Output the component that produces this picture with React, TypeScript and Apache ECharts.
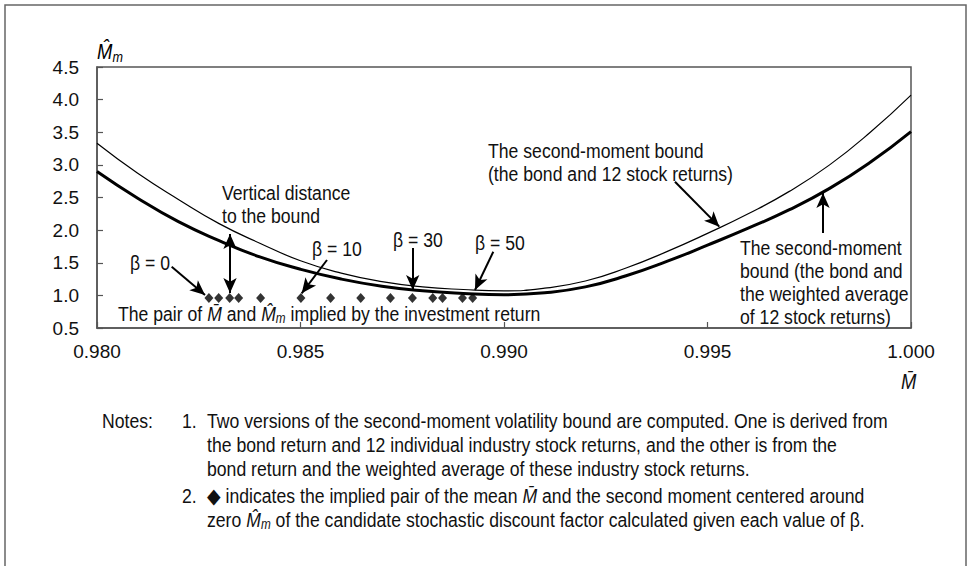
import React, { useEffect, useRef } from "react";
import * as echarts from "echarts";

// ---- data ----
const meanGrid = [0.980, 0.981, 0.982, 0.983, 0.984, 0.985, 0.986, 0.987, 0.988, 0.989, 0.990, 0.991, 0.992, 0.993, 0.994, 0.995, 0.996, 0.997, 0.998, 0.999, 1.000];
// bound from the bond and 12 stock returns (thin)
const boundTwelve = [3.33, 2.87, 2.47, 2.10, 1.80, 1.53, 1.34, 1.21, 1.13, 1.09, 1.07, 1.11, 1.22, 1.42, 1.67, 1.95, 2.25, 2.59, 3.00, 3.50, 4.07];
// bound from the bond and the weighted average (thick)
const boundWeighted = [2.90, 2.49, 2.13, 1.84, 1.59, 1.40, 1.25, 1.14, 1.07, 1.03, 1.01, 1.04, 1.13, 1.30, 1.52, 1.77, 2.03, 2.31, 2.64, 3.04, 3.51];
// implied pairs (diamonds)
const pairMean = [0.98275, 0.98299, 0.98326, 0.98348, 0.98402, 0.98501, 0.98574, 0.98648, 0.98721, 0.98775, 0.98825, 0.98849, 0.98898, 0.98923];
const pairMoment = [0.96, 0.96, 0.96, 0.96, 0.96, 0.96, 0.96, 0.96, 0.96, 0.96, 0.96, 0.96, 0.96, 0.96];
const xTicks = { min: 0.98, max: 1.0, step: 0.005 };
const yTicks = { min: 0.5, max: 4.5, step: 0.5 };

// annotation arrows in data coordinates: [x1, y1, x2, y2, double]
const arrows: [number, number, number, number, boolean][] = [
  [0.983268, 1.036, 0.983268, 1.94, true],
  [0.981835, 1.44, 0.982654, 1.006, false],
  [0.985651, 1.542, 0.985029, 1.032, false],
  [0.987757, 1.726, 0.987757, 1.082, false],
  [0.989737, 1.669, 0.989287, 1.082, false],
  [0.994201, 2.742, 0.99529, 2.053, false],
  [0.997838, 1.956, 0.997838, 2.569, false],
];

const FONT = '"Liberation Sans", Arial, sans-serif';
const FS = 21;
const SX = 0.84; // horizontal squeeze to emulate a narrow face

const MHAT = "M\u0302";
const MBAR = "M\u0304";

const richBase = {
  n: { fontFamily: FONT, fontSize: FS, color: "#111", lineHeight: 23 },
  i: { fontFamily: FONT, fontSize: FS, color: "#111", fontStyle: "italic", lineHeight: 23 },
  s: { fontFamily: FONT, fontSize: 14, color: "#111", fontStyle: "italic", lineHeight: 12, verticalAlign: "bottom" },
};

function txt(x: number, y: number, text: string, extra: any = {}) {
  return {
    type: "text",
    x,
    y,
    scaleX: SX,
    silent: true,
    style: {
      text,
      x: 0,
      y: 0,
      verticalAlign: "top",
      fontFamily: FONT,
      fontSize: FS,
      fill: "#111",
      lineHeight: 23,
      ...extra,
    },
  };
}

function rtxt(x: number, y: number, text: string) {
  return {
    type: "text",
    x,
    y,
    scaleX: SX,
    silent: true,
    style: { text, x: 0, y: 0, verticalAlign: "top", rich: richBase, fontFamily: FONT, fontSize: FS, fill: "#111" },
  };
}

export default function App() {
  const ref = useRef<HTMLDivElement>(null);
  useEffect(() => {
    if (!ref.current) return;
    const chart = echarts.init(ref.current, null, { renderer: "svg" });
    const thin = meanGrid.map((x, i) => [x, boundTwelve[i]]);
    const thick = meanGrid.map((x, i) => [x, boundWeighted[i]]);
    const pts = pairMean.map((x, i) => [x, pairMoment[i]]);
    const arrowData = arrows.map(([x1, y1, x2, y2, dbl]) => [
      { coord: [x1, y1], symbol: dbl ? "arrow" : "none" },
      { coord: [x2, y2], symbol: "arrow" },
    ]);
    chart.setOption({
      animation: false,
      backgroundColor: "#fff",
      grid: {
        left: 97,
        right: 63,
        top: 67,
        bottom: 238,
        show: true,
        borderColor: "#555",
        borderWidth: 1.5,
        backgroundColor: "transparent",
      },
      xAxis: {
        type: "value",
        min: xTicks.min,
        max: xTicks.max,
        interval: xTicks.step,
        axisLine: { show: true, lineStyle: { color: "#555", width: 1.5 } },
        axisTick: { show: true, inside: true, length: 6, lineStyle: { color: "#555", width: 1.2 } },
        splitLine: { show: false },
        axisLabel: {
          margin: 14,
          fontFamily: FONT,
          fontSize: 19,
          color: "#111",
          formatter: (v: number) => v.toFixed(3),
        },
      },
      yAxis: {
        type: "value",
        min: yTicks.min,
        max: yTicks.max,
        interval: yTicks.step,
        axisLine: { show: true, lineStyle: { color: "#555", width: 1.5 } },
        axisTick: { show: true, inside: true, length: 6, lineStyle: { color: "#555", width: 1.2 } },
        splitLine: { show: false },
        axisLabel: {
          margin: 18,
          fontFamily: FONT,
          fontSize: 19,
          color: "#111",
          formatter: (v: number) => v.toFixed(1),
        },
      },
      series: [
        {
          type: "line",
          data: thin,
          smooth: true,
          symbol: "none",
          lineStyle: { color: "#000", width: 1.2 },
          z: 3,
        },
        {
          type: "line",
          data: thick,
          smooth: true,
          symbol: "none",
          lineStyle: { color: "#000", width: 3 },
          z: 3,
        },
        {
          type: "scatter",
          data: pts,
          symbol: "diamond",
          symbolSize: [9, 10],
          itemStyle: { color: "#000" },
          z: 4,
        },
        {
          type: "line",
          data: [],
          markLine: {
            silent: true,
            animation: false,
            symbolSize: [10, 15],
            label: { show: false },
            lineStyle: { color: "#000", width: 2, type: "solid" },
            data: arrowData,
          },
          z: 5,
        },
      ],
      graphic: [
        {
          type: "rect",
          silent: true,
          shape: { x: 5, y: 5, width: 961, height: 600 },
          style: { fill: "none", stroke: "#666", lineWidth: 1.5 },
          z: -1,
        },
        // axis names
        {
          type: "text",
          x: 97,
          y: 38,
          scaleX: SX,
          silent: true,
          style: {
            text: "{i|" + MHAT + "}{s|m}",
            x: 0,
            y: 0,
            verticalAlign: "top",
            rich: {
              i: { fontFamily: FONT, fontSize: 22, fontStyle: "italic", color: "#111", lineHeight: 26 },
              s: { fontFamily: FONT, fontSize: 15, fontStyle: "italic", color: "#111", lineHeight: 14, verticalAlign: "bottom" },
            },
          },
        },
        txt(901, 370, MBAR, { fontStyle: "italic", fontSize: 22 }),
        // annotations
        txt(222, 181, "Vertical distance\nto the bound"),
        txt(130, 251, "\u03b2 = 0"),
        txt(312, 237, "\u03b2 = 10"),
        txt(393, 228, "\u03b2 = 30"),
        txt(475, 231, "\u03b2 = 50"),
        txt(488, 139, "The second-moment bound\n(the bond and 12 stock returns)"),
        txt(740, 236, "The second-moment\nbound (the bond and\nthe weighted average\nof 12 stock returns)"),
        rtxt(118, 302, "{n|The pair of }{i|" + MBAR + "}{n| and }{i|" + MHAT + "}{s|m}{n| implied by the investment return}"),
        // notes
        txt(102, 409, "Notes:"),
        txt(182, 409, "1."),
        txt(207, 409, "Two versions of the second-moment volatility bound are computed. One is derived from"),
        txt(207, 433, "the bond return and 12 individual industry stock returns, and the other is from the"),
        txt(207, 457, "bond return and the weighted average of these industry stock returns."),
        txt(182, 484, "2."),
        rtxt(207, 484, "{n|\u25c6 indicates the implied pair of the mean }{i|" + MBAR + "}{n| and the second moment centered around}"),
        rtxt(207, 508, "{n|zero }{i|" + MHAT + "}{s|m}{n| of the candidate stochastic discount factor calculated given each value of \u03b2.}"),
      ],
    });
    return () => chart.dispose();
  }, []);
  return <div ref={ref} style={{ width: 974, height: 566, position: "absolute", left: 0, top: 0 }} />;
}
